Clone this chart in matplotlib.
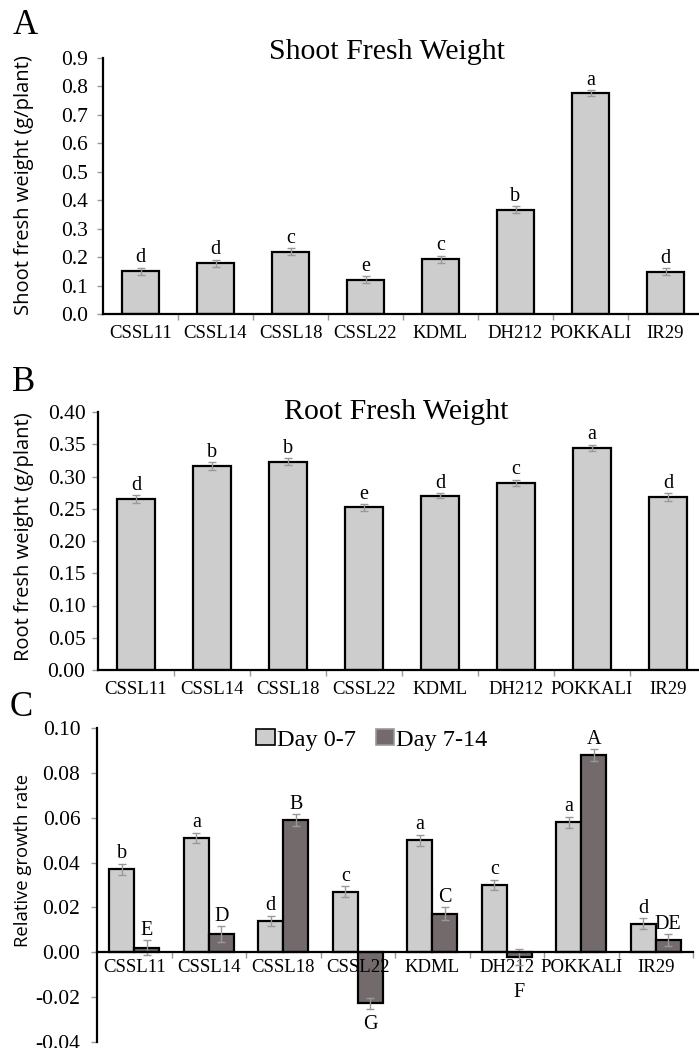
import matplotlib
matplotlib.use("Agg")
import matplotlib.pyplot as plt
from matplotlib.patches import Patch
import numpy as np

lines = ["CSSL11", "CSSL14", "CSSL18", "CSSL22", "KDML", "DH212", "POKKALI", "IR29"]

# A - shoot fresh weight (g/plant)
shoot = [0.150, 0.178, 0.219, 0.120, 0.192, 0.366, 0.776, 0.148]
shoot_err = [0.012, 0.012, 0.012, 0.012, 0.012, 0.012, 0.010, 0.012]
shoot_let = ["d", "d", "c", "e", "c", "b", "a", "d"]

# B - root fresh weight (g/plant)
root = [0.265, 0.316, 0.323, 0.252, 0.270, 0.290, 0.344, 0.268]
root_err = [0.006, 0.006, 0.005, 0.005, 0.004, 0.005, 0.005, 0.006]
root_let = ["d", "b", "b", "e", "d", "c", "a", "d"]

# C - relative growth rate
rgr_07 = [0.037, 0.051, 0.014, 0.027, 0.050, 0.030, 0.058, 0.0127]
rgr_07_err = [0.0024, 0.0024, 0.0024, 0.0024, 0.0024, 0.0024, 0.0024, 0.0025]
rgr_07_let = ["b", "a", "d", "c", "a", "c", "a", "d"]
rgr_714 = [0.002, 0.008, 0.059, -0.0228, 0.0172, -0.002, 0.088, 0.0053]
rgr_714_err = [0.0033, 0.0036, 0.0026, 0.0026, 0.0028, 0.0035, 0.0026, 0.0027]
rgr_714_let = ["E", "D", "B", "G", "C", "F", "A", "DE"]

LIGHT = "#cdcdcd"
DARK = "#736b6b"
SERIF = "Liberation Serif"
SANS = "Open Sans"

W, H = 699, 1048
fig = plt.figure(figsize=(W / 100, H / 100), dpi=100)


def frac(x0, x1, ytop, ybot):
    return [x0 / W, 1 - ybot / H, (x1 - x0) / W, (ybot - ytop) / H]


def style(ax, ylim, yticks, fmt, ypad, xpad=8):
    x = np.arange(len(lines))
    ax.set_xlim(-0.5, len(lines) - 0.5)
    ax.set_ylim(*ylim)
    ax.set_yticks(yticks)
    ax.set_yticklabels([fmt % t for t in yticks], family=SERIF, fontsize=15.5)
    ax.set_xticks(x + 0.5)
    ax.set_xticklabels([])
    ax.set_xticks(x, minor=True)
    ax.set_xticklabels(lines, minor=True, family=SERIF, fontsize=13.5)
    ax.tick_params(axis="x", which="minor", length=0, pad=xpad)
    ax.tick_params(axis="x", which="major", length=4, width=1, color="#999999", direction="out")
    ax.tick_params(axis="y", length=4, width=1, color="#999999", pad=ypad)
    for s in ["top", "right"]:
        ax.spines[s].set_visible(False)
    for s in ["left", "bottom"]:
        ax.spines[s].set_linewidth(1.6)
    return x


def letters(ax, xs, vals, errs, labs, size=14.5):
    for xi, v, e, t in zip(xs, vals, errs, labs):
        ax.annotate(t, (xi, v + e), xytext=(0, 4), textcoords="offset points",
                    ha="center", va="baseline", family=SERIF, fontsize=size)


# ---- A
axA = fig.add_axes(frac(103, 703, 58, 314))
x = style(axA, (0, 0.9), np.arange(0, 0.91, 0.1), "%.1f", 7)
axA.bar(x, shoot, width=0.49, color=LIGHT, edgecolor="black", linewidth=1.6)
axA.errorbar(x, shoot, yerr=shoot_err, fmt="none", ecolor="#999999", elinewidth=1, capsize=3)
letters(axA, x, shoot, shoot_err, shoot_let)
fig.text(387 / W, 1 - 52 / H, "Shoot Fresh Weight", family=SERIF, fontsize=21.5, ha="center", va="center")
fig.text(24 / W, 1 - 185 / H, "Shoot fresh weight (g/plant)", family=SANS, fontsize=14.5,
         rotation=90, ha="center", va="center")
fig.text(25 / W, 1 - 25 / H, "A", family=SERIF, fontsize=25, ha="center", va="center")

# ---- B
axB = fig.add_axes(frac(98, 706, 412, 670))
x = style(axB, (0, 0.40), np.arange(0, 0.401, 0.05), "%.2f", 5)
axB.bar(x, root, width=0.49, color=LIGHT, edgecolor="black", linewidth=1.6)
axB.errorbar(x, root, yerr=root_err, fmt="none", ecolor="#999999", elinewidth=1, capsize=3)
letters(axB, x, root, root_err, root_let)
fig.text(396 / W, 1 - 412 / H, "Root Fresh Weight", family=SERIF, fontsize=21.5, ha="center", va="center")
fig.text(24 / W, 1 - 537 / H, "Root fresh weight (g/plant)", family=SANS, fontsize=14.5,
         rotation=90, ha="center", va="center")
fig.text(24 / W, 1 - 382 / H, "B", family=SERIF, fontsize=25, ha="center", va="center")

# ---- C
axC = fig.add_axes(frac(97, 693, 728, 1042))
# move the x axis to zero first: set_position rebuilds the ticks
axC.spines["bottom"].set_position(("data", 0))
x = style(axC, (-0.04, 0.10), np.arange(-0.04, 0.101, 0.02), "%.2f", 8, xpad=5)
bw = 0.335
axC.bar(x - bw / 2, rgr_07, width=bw, color=LIGHT, edgecolor="black", linewidth=1.6)
axC.bar(x + bw / 2, rgr_714, width=bw, color=DARK, edgecolor="black", linewidth=1.6)
axC.errorbar(x - bw / 2, rgr_07, yerr=rgr_07_err, fmt="none", ecolor="#999999", elinewidth=1, capsize=3)
axC.errorbar(x + bw / 2, rgr_714, yerr=rgr_714_err, fmt="none", ecolor="#999999", elinewidth=1, capsize=3)
letters(axC, x - bw / 2, rgr_07, rgr_07_err, rgr_07_let)
for xi, v, e, t in zip(x + bw / 2, rgr_714, rgr_714_err, rgr_714_let):
    if v >= 0:
        axC.annotate(t, (xi, v + e), xytext=(0, 4), textcoords="offset points",
                     ha="center", va="baseline", family=SERIF, fontsize=14.5)
    else:
        # below the bar, kept clear of the category labels
        axC.text(xi, min(v - e - 0.0024, -0.0138), t, ha="center", va="top", family=SERIF, fontsize=14.5)
handles = [Patch(facecolor=LIGHT, edgecolor="black", linewidth=1.2),
           Patch(facecolor=DARK, edgecolor="#999999", linewidth=1.2)]
fig.legend(handles, ["Day 0-7", "Day 7-14"], loc="center", bbox_to_anchor=(372 / W, 1 - 740 / H),
           ncol=2, frameon=False, prop={"family": SERIF, "size": 17.5},
           handlelength=0.75, handleheight=0.65, handletextpad=0.1, columnspacing=0.8)
fig.text(23 / W, 1 - 860 / H, "Relative growth rate", family=SANS, fontsize=13.3,
         rotation=90, ha="center", va="center")
fig.text(21 / W, 1 - 707 / H, "C", family=SERIF, fontsize=25, ha="center", va="center")

fig.savefig("out.png", dpi=100, facecolor="white")
